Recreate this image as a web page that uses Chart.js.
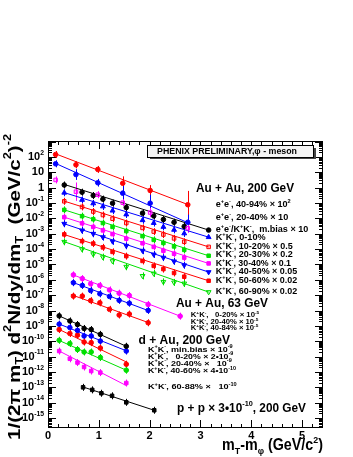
<!DOCTYPE html>
<html>
<head>
<meta charset="utf-8">
<script src="https://cdn.jsdelivr.net/npm/chart.js@4"></script>
<style>
  body { margin: 0; background: #fff; }
  canvas { display: block; }
</style>
</head>
<body>
<canvas id="myChart" width="353" height="457"></canvas>
<script>
// e+e- (Au+Au 200 GeV)
const xEE = [0.15, 0.55, 0.98, 1.47, 2.01, 2.75];
const ee4094 = [145, 31, 15.5, 1.95, 0.66, 0.078];
const ee2040 = [36, 7.2, 2.1, 0.44, 0.098, 0.0056];
const eeMinBias = [3.2, 0.55, 0.35, 0.105, 0.024, 0.0023];
const errEE4094 = [0.08, 0.2, 0.15, 0.45, 0.35, 0.9];
const errEE2040 = [0.08, 0.35, 0.25, 0.5, 0.55, 0.5];
const errEEMinBias = [0.2, 0.6, 0.15, 0.2, 0.3, 0.3];

// K+K- (Au+Au 200 GeV)
const xKK = [0.32, 0.67, 0.89, 1.08, 1.27, 1.54, 1.86, 2.08, 2.27, 2.48, 2.68];
const kkMinBias = [1.5, 0.51, 0.31, 0.18, 0.098, 0.051, 0.022, 0.0145, 0.0085, 0.0056, 0.003];
const kk0010 = [0.47, 0.16, 0.095, 0.06, 0.032, 0.018, 0.0076, 0.005, 0.0028, 0.0018, 0.00105];
const kk1020 = [0.13, 0.056, 0.028, 0.0166, 0.0095, 0.005, 0.0024, 0.00138, 0.00089, 0.0005, 0.0003];
const kk2030 = [0.036, 0.014, 0.0089, 0.005, 0.0028, 0.0015, 0.0007, 0.0004, 0.00025, 0.00015, 0.000089];
const kk3040 = [0.012, 0.0048, 0.0028, 0.00166, 0.00095, 0.00048, 0.00024, 0.00014, 0.000079, 0.00005, 0.000028];
const kk4050 = [0.0045, 0.00166, 0.001, 0.0006, 0.00032, 0.000166, 0.000079, 0.000045, 0.000028, 0.000016, 0.0000089];
const kk5060 = [9.1e-4, 3.3e-4, 2.3e-4, 1.3e-4, 6.6e-5, 3.5e-5, 1.7e-5, 8.1e-6, 5.0e-6, 2.8e-6, 1.6e-6];
const kk6090 = [3.0e-4, 1.0e-4, 4.7e-5, 3.0e-5, 1.66e-5, 7.1e-6, 1.8e-6, 2.6e-6, 7.4e-7, 6.8e-7, 5.8e-7];

// Au+Au 63 GeV
const x63 = [0.50, 0.675, 0.84, 1.02, 1.21, 1.40, 1.60, 1.97, 2.6];
const au63_0020 = [2.1e-6, 1.2e-6, 5.5e-7, 4.3e-7, 2.2e-7, 1.35e-7, 9.5e-8, 2.5e-8, 4.3e-9];
const au63_2040 = [6.5e-7, 4.3e-7, 2.0e-7, 1.23e-7, 8.3e-8, 4.6e-8, 3.0e-8, 1.02e-8];
const au63_4084 = [8.7e-8, 8.7e-8, 4.4e-8, 3.2e-8, 1.2e-8, 5.1e-9, 5.9e-9, 1.6e-9];

// d+Au 200 GeV
const xDAu = [0.22, 0.43, 0.58, 0.71, 0.85, 1.03, 1.54];
const dAuMinBias = [4.5e-9, 2.1e-9, 1.23e-9, 6.8e-10, 5.8e-10, 2.8e-10, 4.7e-11];
const dAu0020 = [1.3e-9, 7.8e-10, 5.1e-10, 2.2e-10, 2.2e-10, 1.02e-10, 2.3e-11];
const dAu2040 = [5.8e-10, 3.2e-10, 2.5e-10, 8.9e-11, 8.1e-11, 3.6e-11, 3.2e-12];
const dAu4060 = [1.15e-10, 7.1e-11, 2.9e-11, 2.0e-11, 2.0e-11, 8.7e-12, 1.3e-12];
const dAu6088 = [2.3e-11, 7.2e-12, 4.1e-12, 2.1e-12, 1.15e-12, 9.1e-13, 1.9e-13];

// p+p 200 GeV
const xPP = [0.69, 0.87, 1.05, 1.26, 1.54, 2.09];
const pp = [1.0e-13, 6.8e-14, 4.1e-14, 2.8e-14, 1.05e-14, 3.2e-15];

// fit lines, [x, y] at both ends
const fitEE4094 = [[0.15, 160], [2.75, 0.08]];
const fitEE2040 = [[0.15, 38], [2.73, 0.0056]];
const fitKKMinBias = [[0.28, 1.8], [3.16, 0.00174]];
const fitKK0010 = [[0.3, 0.5], [3.16, 6.0e-4]];
const fitKK1020 = [[0.3, 0.14], [3.16, 1.4e-4]];
const fitKK2030 = [[0.3, 0.038], [3.16, 3.7e-5]];
const fitKK3040 = [[0.3, 0.0126], [3.16, 1.17e-5]];
const fitKK4050 = [[0.3, 0.0047], [3.16, 3.2e-6]];
const fitKK5060 = [[0.3, 9.3e-4], [3.16, 8.7e-7]];
const fitKK6090 = [[0.3, 3.2e-4], [3.16, 1.6e-7]];
const fit63_0020 = [[0.45, 2.4e-6], [2.6, 4.3e-9]];
const fit63_2040 = [[0.45, 7.6e-7], [1.97, 1.0e-8]];
const fit63_4084 = [[0.45, 1.1e-7], [1.97, 1.66e-9]];
const fitDAuMinBias = [[0.2, 4.8e-9], [1.54, 4.7e-11]];
const fitDAu0020 = [[0.2, 1.4e-9], [1.54, 2.4e-11]];
const fitDAu2040 = [[0.2, 6.3e-10], [1.54, 4.5e-12]];
const fitDAu4060 = [[0.2, 1.2e-10], [1.54, 1.3e-12]];
const fitDAu6088 = [[0.2, 2.5e-11], [1.54, 1.3e-13]];
const fitPP = [[0.69, 1.05e-13], [2.09, 3.2e-15]];

const RED = '#ff0000', BLUE = '#0000ff', GREEN = '#00e000', MAG = '#ff00ff', BLACK = '#000000';
const FONT = '"Liberation Sans", Arial, sans-serif';

function pts(xs, ys) {
    return ys.map((y, i) => ({ x: xs[i], y: y }));
}

// marker size, triangles look smaller for the same radius
const rad = s => s === 'triangle' ? 2.8 : s === 'rect' ? 2.5 : 2.3;

function marks(xs, ys, color, style, extra) {
    return Object.assign({
        data: pts(xs, ys),
        showLine: false,
        pointStyle: style,
        pointRadius: rad(style),
        pointBorderWidth: 1,
        pointBackgroundColor: color,
        pointBorderColor: color,
        borderColor: color,
        order: 1,
        errBars: true
    }, extra);
}

function fit(f, color, legendStyle, extra) {
    return Object.assign({
        data: f.map(p => ({ x: p[0], y: p[1] })),
        showLine: true,
        borderColor: color,
        borderWidth: 1,
        pointRadius: legendStyle ? [0, rad(legendStyle)] : 0,
        pointStyle: legendStyle || 'circle',
        pointBackgroundColor: color,
        pointBorderColor: color,
        order: 2
    }, extra);
}

const open = c => c + '40';

// text with ^{} and _{}
function parse(s) {
    const out = [];
    let buf = '', i = 0;
    while (i < s.length) {
        const c = s[i];
        if ((c === '^' || c === '_') && s[i + 1] === '{') {
            if (buf) { out.push([buf, 0]); buf = ''; }
            const j = s.indexOf('}', i);
            out.push([s.slice(i + 2, j), c === '^' ? 1 : -1]);
            i = j + 1;
        } else {
            buf += c;
            i++;
        }
    }
    if (buf) out.push([buf, 0]);
    return out;
}

function drawRich(ctx, str, x, y, size, w, align, weight) {
    const parts = parse(str);
    const wt = weight || 'bold';
    const fontOf = p => wt + ' ' + (p[1] ? size * 0.62 : size) + 'px ' + FONT;
    let total = 0;
    const widths = parts.map(p => {
        ctx.font = fontOf(p);
        const wd = ctx.measureText(p[0]).width;
        total += wd;
        return wd;
    });
    const sx = w ? w / total : 1;
    const full = total * sx;
    ctx.save();
    ctx.translate(align === 'right' ? x - full : align === 'center' ? x - full / 2 : x, y);
    ctx.scale(sx, 1);
    ctx.textBaseline = 'middle';
    ctx.textAlign = 'left';
    let cx = 0;
    parts.forEach((p, i) => {
        ctx.font = fontOf(p);
        const dy = p[1] === 1 ? -size * 0.38 : p[1] === -1 ? size * 0.3 : 0;
        ctx.fillText(p[0], cx, dy);
        cx += widths[i];
    });
    ctx.restore();
}

const frame = {
    id: 'frame',
    beforeDatasetsDraw(chart) {
        const ctx = chart.ctx;
        const a = chart.chartArea;
        const xs = chart.scales.x, ys = chart.scales.y;
        ctx.save();
        ctx.strokeStyle = '#000';
        ctx.lineWidth = 1;
        ctx.strokeRect(a.left + 0.5, a.top + 0.5, a.right - a.left - 1, a.bottom - a.top - 1);
        ctx.beginPath();
        for (let i = 0; i * 0.2 <= xs.max + 1e-9; i++) {
            const px = Math.round(xs.getPixelForValue(i * 0.2)) + 0.5;
            const len = i % 5 === 0 ? 8 : 4;
            ctx.moveTo(px, a.bottom); ctx.lineTo(px, a.bottom - len);
            ctx.moveTo(px, a.top); ctx.lineTo(px, a.top + len);
        }
        for (let k = -16; k <= 3; k++) {
            for (let m = 1; m <= 9; m++) {
                const v = m * Math.pow(10, k);
                if (v < ys.min || v > ys.max) continue;
                const py = Math.round(ys.getPixelForValue(v)) + 0.5;
                const len = m === 1 ? 8 : 4;
                ctx.moveTo(a.left, py); ctx.lineTo(a.left + len, py);
                ctx.moveTo(a.right, py); ctx.lineTo(a.right - len, py);
            }
        }
        ctx.stroke();

        // error bars
        chart.data.datasets.forEach(ds => {
            if (!ds.errBars) return;
            ctx.strokeStyle = ds.borderColor;
            ctx.beginPath();
            ds.data.forEach((p, i) => {
                const px = Math.round(xs.getPixelForValue(p.x)) + 0.5;
                const py = ys.getPixelForValue(p.y);
                let up = py - 3.5, dn = py + 3.5;
                if (ds.errs) {
                    const f = Math.pow(10, ds.errs[i]);
                    up = Math.min(up, ys.getPixelForValue(p.y * f));
                    dn = Math.max(dn, ys.getPixelForValue(p.y / f));
                }
                ctx.moveTo(px, up); ctx.lineTo(px, dn);
            });
            ctx.stroke();
        });
        ctx.restore();
    },
    afterDraw(chart) {
        const ctx = chart.ctx;
        const xs = chart.scales.x, ys = chart.scales.y;
        ctx.save();
        ctx.fillStyle = '#000';

        // axis labels
        for (let k = -15; k <= 2; k++) {
            const lab = k === 0 ? '1' : k === 1 ? '10' : '10^{' + k + '}';
            drawRich(ctx, lab, 44, ys.getPixelForValue(Math.pow(10, k)), 11, 0, 'right');
        }
        for (let i = 0; i <= 5; i++) {
            drawRich(ctx, String(i), xs.getPixelForValue(i), 436, 11, 0, 'center');
        }

        // axis titles
        drawRich(ctx, 'm_{T}-m_{φ} (GeV/c^{2})', 222, 446, 16, 101, 'left');
        ctx.save();
        ctx.translate(15, 440);
        ctx.rotate(-Math.PI / 2);
        drawRich(ctx, '1/(2π m_{T}) d^{2}N/dy/dm_{T}  (GeV/c^{2})^{-2}', 0, 0, 17, 306, 'left');
        ctx.restore();

        // PHENIX box
        ctx.fillStyle = '#444';
        ctx.fillRect(150, 148, 166, 11);
        ctx.fillStyle = '#f4f4f4';
        ctx.fillRect(147, 145, 166, 12);
        ctx.strokeStyle = '#000';
        ctx.strokeRect(147.5, 145.5, 166, 12);
        ctx.fillStyle = '#000';
        drawRich(ctx, 'PHENIX PRELIMINARY,φ - meson', 157, 151.5, 9, 140, 'left');

        // group labels
        drawRich(ctx, 'Au + Au, 200 GeV', 196, 188, 13, 98, 'left');
        drawRich(ctx, 'Au + Au, 63 GeV', 176, 303.5, 13, 92, 'left');
        drawRich(ctx, 'd + Au, 200 GeV', 138.5, 340, 13, 91.5, 'left');
        drawRich(ctx, 'p + p × 3•10^{-10}, 200 GeV', 177, 408.5, 13, 129, 'left');

        // entries
        const rows200 = [
            ['e^{+}e^{-}, 40-94% × 10^{2}', 204.3, 75],
            ['e^{+}e^{-}, 20-40% × 10', 217.7, 72.6],
            ['e^{+}e^{-}/K^{+}K^{-},  m.bias × 10', 230, 92.6],
            ['K^{+}K^{-}, 0-10%', 237.5, 50],
            ['K^{+}K^{-}, 10-20% × 0.5', 246.5, 77],
            ['K^{+}K^{-}, 20-30% × 0.2', 255, 77],
            ['K^{+}K^{-}, 30-40% × 0.1', 263.3, 75.3],
            ['K^{+}K^{-}, 40-50% × 0.05', 272, 81.6],
            ['K^{+}K^{-}, 50-60% × 0.02', 280.5, 81.6],
            ['K^{+}K^{-}, 60-90% × 0.02', 291.7, 81.6]
        ];
        rows200.forEach(r => drawRich(ctx, r[0], 215.7, r[1], 8.5, r[2], 'left'));
        const rows63 = [
            ['K^{+}K^{-},   0-20% × 10^{-5}', 315, 68.6],
            ['K^{+}K^{-}, 20-40% × 10^{-5}', 322.3, 67.6],
            ['K^{+}K^{-}, 40-84% × 10^{-5}', 328.5, 67.6]
        ];
        rows63.forEach(r => drawRich(ctx, r[0], 190.7, r[1], 7, r[2], 'left'));
        const rowsDAu = [
            ['K^{+}K^{-}, min.bias × 10^{-9}', 350, 84.7],
            ['K^{+}K^{-},   0-20% × 2•10^{-9}', 356.5, 85.3],
            ['K^{+}K^{-}, 20-40% ×   10^{-9}', 363.8, 83.7],
            ['K^{+}K^{-}, 40-60% × 4•10^{-10}', 371.2, 88],
            ['K^{+}K^{-}, 60-88% ×   10^{-10}', 387.3, 88.7]
        ];
        rowsDAu.forEach(r => drawRich(ctx, r[0], 148, r[1], 7.5, r[2], 'left'));
        ctx.restore();
    }
};

const ctx = document.querySelector('#myChart');

new Chart(ctx, {
    type: 'scatter',
    data: {
        datasets: [
            fit(fitEE4094, RED),
            fit(fitEE2040, BLUE),
            fit(fitKKMinBias, BLACK, 'circle'),
            fit(fitKK0010, BLUE, 'triangle'),
            fit(fitKK1020, RED, 'rect', { pointBackgroundColor: open(RED) }),
            fit(fitKK2030, GREEN, 'rect'),
            fit(fitKK3040, MAG, 'rect'),
            fit(fitKK4050, BLUE, 'triangle', { pointRotation: 180 }),
            fit(fitKK5060, RED, 'rect'),
            fit(fitKK6090, GREEN, 'triangle', { pointRotation: 180, pointBackgroundColor: open(GREEN) }),
            fit(fit63_0020, MAG),
            fit(fit63_2040, BLUE),
            fit(fit63_4084, RED),
            fit(fitDAuMinBias, BLACK),
            fit(fitDAu0020, BLUE),
            fit(fitDAu2040, RED),
            fit(fitDAu4060, GREEN),
            fit(fitDAu6088, MAG),
            fit(fitPP, BLACK),

            marks(xEE, ee4094, RED, 'circle', { errs: errEE4094 }),
            marks(xEE, ee2040, BLUE, 'circle', { errs: errEE2040 }),
            marks(xEE, eeMinBias, MAG, 'rect', { errs: errEEMinBias, pointBackgroundColor: open(MAG) }),
            marks(xKK, kkMinBias, BLACK, 'circle'),
            marks(xKK, kk0010, BLUE, 'triangle'),
            marks(xKK, kk1020, RED, 'rect', { pointBackgroundColor: open(RED) }),
            marks(xKK, kk2030, GREEN, 'rect'),
            marks(xKK, kk3040, MAG, 'rect'),
            marks(xKK, kk4050, BLUE, 'triangle', { pointRotation: 180 }),
            marks(xKK, kk5060, RED, 'rect'),
            marks(xKK, kk6090, GREEN, 'triangle', { pointRotation: 180, pointBackgroundColor: open(GREEN) }),
            marks(x63, au63_0020, MAG, 'circle'),
            marks(x63, au63_2040, BLUE, 'circle'),
            marks(x63, au63_4084, RED, 'circle'),
            marks(xDAu, dAuMinBias, BLACK, 'circle'),
            marks(xDAu, dAu0020, BLUE, 'circle'),
            marks(xDAu, dAu2040, RED, 'circle'),
            marks(xDAu, dAu4060, GREEN, 'circle'),
            marks(xDAu, dAu6088, MAG, 'rect'),
            marks(xPP, pp, BLACK, 'rect')
        ]
    },
    options: {
        responsive: false,
        animation: false,
        devicePixelRatio: 1,
        layout: { padding: { left: 0, top: 141, right: 30, bottom: 0 } },
        plugins: { legend: { display: false }, tooltip: { enabled: false } },
        scales: {
            x: {
                type: 'linear',
                min: 0,
                max: 5.41,
                ticks: { display: false },
                grid: { display: false },
                border: { display: false },
                afterFit(s) { s.height = 29; }
            },
            y: {
                type: 'logarithmic',
                min: 2.24e-16,
                max: 1.1e3,
                ticks: { display: false },
                grid: { display: false },
                border: { display: false },
                afterFit(s) { s.width = 48; }
            }
        }
    },
    plugins: [frame]
});
</script>
</body>
</html>
